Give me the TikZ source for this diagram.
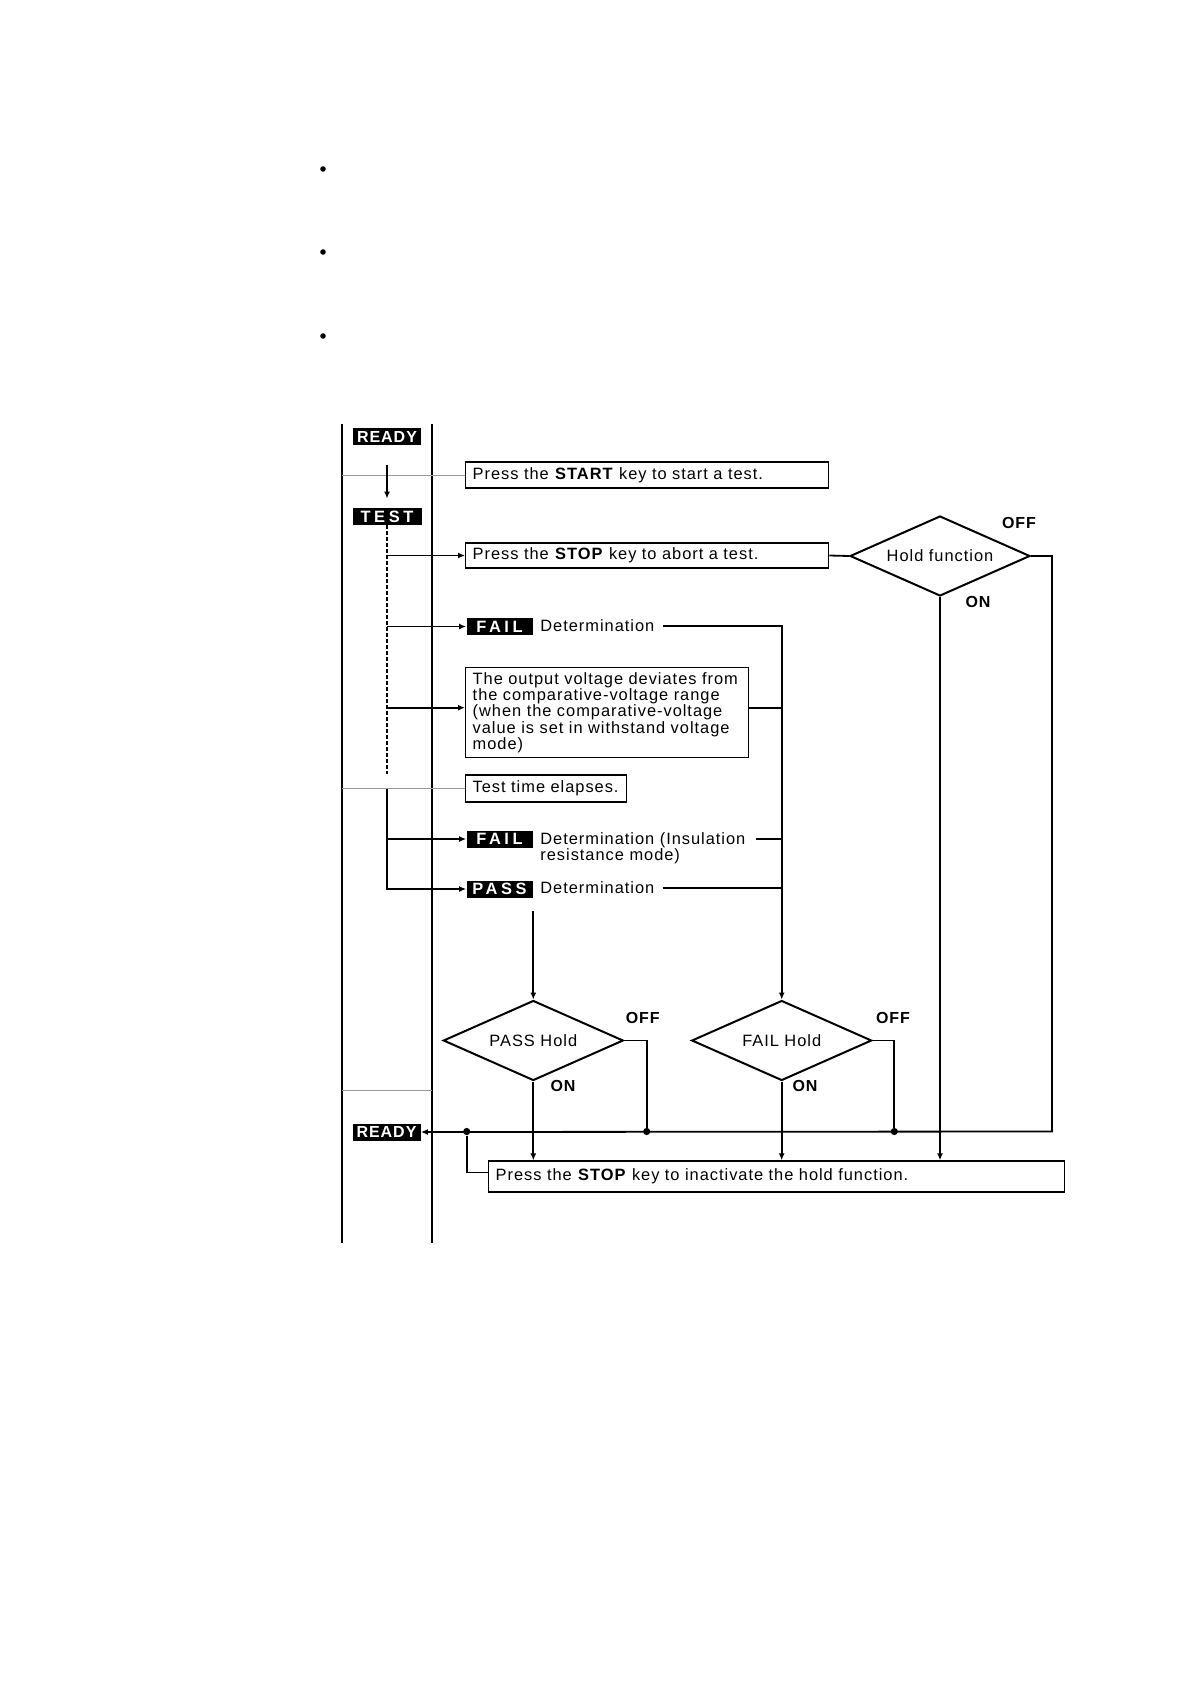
\documentclass[tikz,border=0pt]{standalone}
\usepackage{fontspec}
\newfontfamily\hvfont[LetterSpace=6]{Liberation Sans}
\newfontfamily\hvtagfont[LetterSpace=22]{Liberation Sans}
\usetikzlibrary{arrows.meta,positioning,shapes.geometric,calc}

\begin{document}
\begin{tikzpicture}[x=0.5pt,y=-0.5pt,
  hvtext/.style={font=\hvfont\fontsize{8.2}{8.1}\selectfont},
  hvbox/.style={hvtext,draw,line width=0.7pt,anchor=west,align=left,inner xsep=3.5pt,inner ysep=0pt},
  hvtag/.style={fill=black,text=white,inner sep=0pt,minimum width=33pt,minimum height=8.5pt,
    font=\hvtagfont\bfseries\fontsize{8.2}{8.1}\selectfont},
  hvready/.style={hvtag,minimum width=34pt,font=\hvfont\bfseries\fontsize{8}{8.1}\selectfont},
  hvdecision/.style={hvtext,diamond,draw,line width=1pt,aspect=2,inner sep=0pt,
    minimum width=90pt,minimum height=40pt},
  hvswitch/.style={font=\hvfont\bfseries\fontsize{8}{8.1}\selectfont},
  hvline/.style={line width=0.9pt},
  hvarrow/.style={hvline,-{Latex[length=3.5pt,width=3pt]}},
  hvthin/.style={gray!80,line width=0.5pt},
  hvdot/.style={circle,fill=black,inner sep=0pt,minimum size=3.6pt}
]
  \path[use as bounding box,fill=white] (0,0) rectangle (1190,1684);
  \foreach \y in {169,252,336}
    \fill (323,\y) circle[radius=1.4pt];

  \coordinate (laneL) at (342,424);
  \coordinate (laneR) at (432,424);
  \draw[hvline] (laneL) -- (342,1243) (laneR) -- (432,1243);
  \draw[hvthin] (342,1090) -- (432,1090);

  \node[hvready] (ready) at (387,436.5) {READY};
  \node[hvbox,text width=174.5pt,minimum height=13pt] (startkey) at (465,475)
    {Press the \textbf{START} key to start a test.};
  \node[hvtag,minimum width=34.5pt] (test) at (387,516.5) {TEST};
  \node[hvbox,text width=174.5pt,minimum height=12.5pt] (stopkey) at (465,555.5)
    {Press the \textbf{STOP} key to abort a test.};
  \node[hvdecision] (hold) at (940,556) {Hold function};
  \node[hvswitch] (holdoff) at (1019,523) {OFF};
  \node[hvswitch] (holdon) at (978,602) {ON};

  \node[hvtag] (fail) at (499.5,626.5) {FAIL};
  \node[hvtext,anchor=base west,inner sep=0pt] (faildet) at (540,631.5) {Determination};
  \node[hvbox,anchor=north west,text width=134.5pt,minimum height=45pt] (deviate) at (465,667)
    {The output voltage deviates from\\the comparative-voltage range\\(when the comparative-voltage\\value is set in withstand voltage\\mode)};
  \node[hvbox,text width=73.5pt,minimum height=13.5pt] (elapse) at (465,788.5) {Test time elapses.};
  \node[hvtag] (failir) at (499.5,839) {FAIL};
  \node[hvtext,anchor=west,align=left,inner sep=0pt] (failirdet) at (540,848.5)
    {Determination (Insulation\\resistance mode)};
  \node[hvtag] (pass) at (499.5,889) {PASS};
  \node[hvtext,anchor=base west,inner sep=0pt] (passdet) at (540,893.5) {Determination};

  \node[hvdecision] (passhold) at (533.3,1040.5) {PASS Hold};
  \node[hvdecision] (failhold) at (781.7,1040.5) {FAIL Hold};
  \node[hvswitch] (passoff) at (642.7,1017.5) {OFF};
  \node[hvswitch] (passon) at (563,1086) {ON};
  \node[hvswitch] (failoff) at (893,1017.5) {OFF};
  \node[hvswitch] (failon) at (805,1086) {ON};

  \node[hvready] (readyback) at (386.5,1132) {READY};
  \node[hvbox,text width=281pt,minimum height=15.5pt] (release) at (488,1176.5)
    {Press the \textbf{STOP} key to inactivate the hold function.};
  \node[hvdot] (tapr) at (466.7,1131.5) {};
  \node[hvdot] (tapp) at (646.7,1131.5) {};
  \node[hvdot] (tapf) at (894.3,1131.5) {};
  \coordinate (holdturn) at (1052,1131.5);
  \coordinate (deviatein) at ([yshift=2.5pt]deviate.west);

  \draw[hvthin] (laneL |- startkey.west) -- (startkey.west);
  \draw[hvthin] (laneL |- elapse.west) -- (elapse.west);
  \draw[hvarrow,shorten <=10pt,shorten >=4.5pt] (ready) -- (test);
  \draw[hvline,dash pattern=on 1.6pt off 1.4pt] (test.south) -- (test.south |- elapse.north);
  \draw[hvarrow] (test.south |- stopkey.west) -- (stopkey.west);
  \draw[hvarrow] (test.south |- fail.west) -- (fail.west);
  \draw[hvarrow] (test.south |- deviatein) -- (deviatein);
  \draw[hvarrow] (test.south |- elapse.west) |- (pass.west);
  \draw[hvarrow] (test.south |- failir.west) -- (failir.west);

  \draw[hvline] (stopkey.east) -- (hold.west);
  \draw[hvarrow] (hold.east) -| (holdturn) -- (readyback.east);
  \draw[hvarrow] (hold.south) -- (hold.south |- release.north);

  \draw[hvarrow,shorten <=4pt] (faildet.east) -| (failhold.north);
  \draw[hvline] ([yshift=2.5pt]deviate.east) -- (failhold.north |- deviatein);
  \draw[hvline,shorten <=5pt] (failir.east -| failirdet.east) -- (failhold.north |- failir.east);
  \draw[hvline,shorten <=4pt] (passdet.east) -- (failhold.north |- passdet.east);
  \draw[hvarrow,shorten <=6.75pt] (pass.south -| passhold.north) -- (passhold.north);

  \draw[hvline] (passhold.east) -| (tapp);
  \draw[hvline] (failhold.east) -| (tapf);
  \draw[hvarrow] (passhold.south) -- (passhold.south |- release.north);
  \draw[hvarrow] (failhold.south) -- (failhold.south |- release.north);
  \draw[hvline] (tapr) |- ([yshift=2pt]release.west);
\end{tikzpicture}
\end{document}
